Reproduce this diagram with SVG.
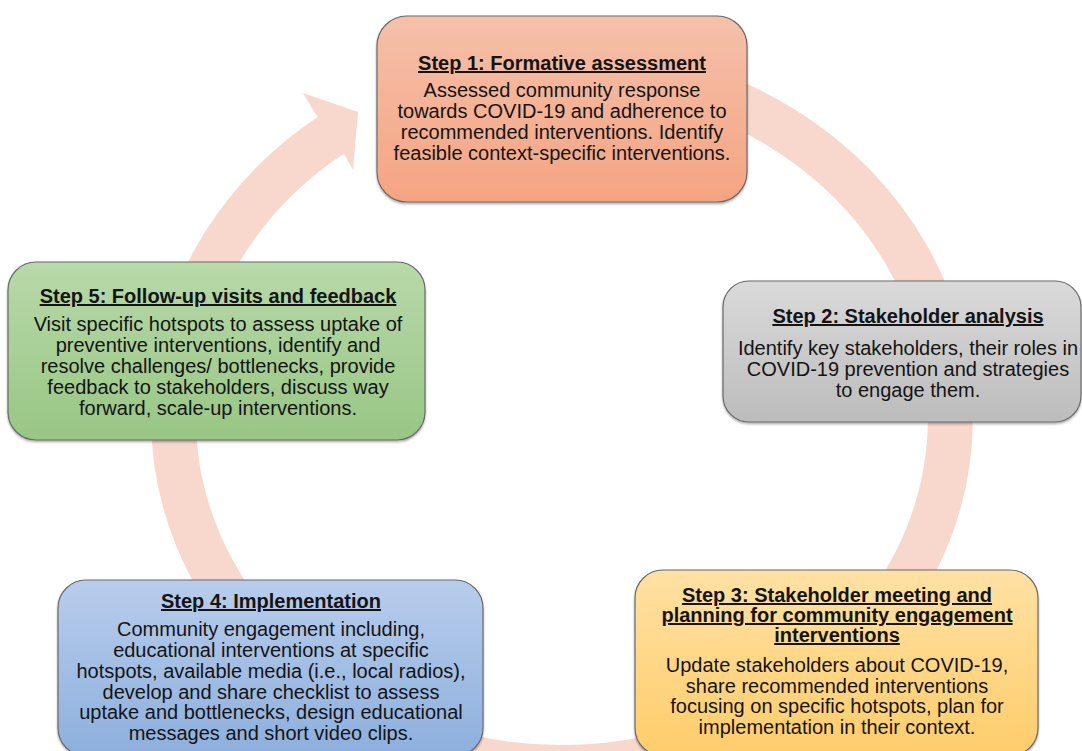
<svg xmlns="http://www.w3.org/2000/svg" width="1082" height="751" viewBox="0 0 1082 751">
<defs>
<linearGradient id="g1" x1="0" y1="0" x2="0" y2="1"><stop offset="0" stop-color="#F5C0AA"/><stop offset="1" stop-color="#F5A482"/></linearGradient>
<linearGradient id="g2" x1="0" y1="0" x2="0" y2="1"><stop offset="0" stop-color="#DADADA"/><stop offset="1" stop-color="#BCBCBC"/></linearGradient>
<linearGradient id="g3" x1="0" y1="0" x2="0" y2="1"><stop offset="0" stop-color="#FFE1A4"/><stop offset="1" stop-color="#FFCC6A"/></linearGradient>
<linearGradient id="g4" x1="0" y1="0" x2="0" y2="1"><stop offset="0" stop-color="#B8CDEC"/><stop offset="1" stop-color="#8DAFDD"/></linearGradient>
<linearGradient id="g5" x1="0" y1="0" x2="0" y2="1"><stop offset="0" stop-color="#B8D9AA"/><stop offset="1" stop-color="#98C684"/></linearGradient>
<filter id="sh" x="-5%" y="-5%" width="110%" height="115%"><feDropShadow dx="0" dy="1.5" stdDeviation="1.2" flood-color="#000" flood-opacity="0.35"/></filter>
</defs>
<style>
.box{stroke:#6a6a6a;stroke-width:1.2;filter:url(#sh)}
.t{font-family:"Liberation Sans",Arial,sans-serif;font-size:20px;fill:#141414;text-anchor:middle}
.h{font-weight:bold;text-decoration:underline}
.band{fill:none;stroke:#F8D8CD;stroke-width:45}
</style>
<g id="connectors">
<path class="band" d="M629.5,71.8 A388.5,350.5 0 1 1 333.6,133.4"/>
<polygon points="315,113 303,93 358,112 353,170 342,150" fill="#F8D8CD"/>
</g>
<g id="step1">
<rect class="box" x="377" y="16" width="370" height="186" rx="30" fill="url(#g1)"/>
<text class="t h" x="562" y="70">Step 1: Formative assessment</text>
<text class="t" x="562" y="97">Assessed community response</text>
<text class="t" x="562" y="118">towards COVID-19 and adherence to</text>
<text class="t" x="562" y="139">recommended interventions. Identify</text>
<text class="t" x="562" y="160">feasible context-specific interventions.</text>
</g>
<g id="step2">
<rect class="box" x="723" y="281" width="358" height="141" rx="26" fill="url(#g2)"/>
<text class="t h" x="908" y="323">Step 2: Stakeholder analysis</text>
<text class="t" x="908" y="355">Identify key stakeholders, their roles in</text>
<text class="t" x="908" y="376">COVID-19 prevention and strategies</text>
<text class="t" x="908" y="397">to engage them.</text>
</g>
<g id="step3">
<rect class="box" x="635" y="570" width="403" height="186" rx="28" fill="url(#g3)"/>
<text class="t h" x="837" y="602">Step 3: Stakeholder meeting and</text>
<text class="t h" x="837" y="622">planning for community engagement</text>
<text class="t h" x="837" y="642">interventions</text>
<text class="t" x="837" y="672">Update stakeholders about COVID-19,</text>
<text class="t" x="837" y="693">share recommended interventions</text>
<text class="t" x="837" y="713">focusing on specific hotspots, plan for</text>
<text class="t" x="837" y="734">implementation in their context.</text>
</g>
<g id="step4">
<rect class="box" x="58" y="580" width="425" height="176" rx="28" fill="url(#g4)"/>
<text class="t h" x="271" y="608">Step 4: Implementation</text>
<text class="t" x="271" y="636">Community engagement including,</text>
<text class="t" x="271" y="657">educational interventions at specific</text>
<text class="t" x="271" y="678">hotspots, available media (i.e., local radios),</text>
<text class="t" x="271" y="699">develop and share checklist to assess</text>
<text class="t" x="271" y="719">uptake and bottlenecks, design educational</text>
<text class="t" x="271" y="740">messages and short video clips.</text>
</g>
<g id="step5">
<rect class="box" x="8" y="262" width="417" height="178" rx="28" fill="url(#g5)"/>
<text class="t h" x="218" y="303">Step 5: Follow-up visits and feedback</text>
<text class="t" x="218" y="331">Visit specific hotspots to assess uptake of</text>
<text class="t" x="218" y="352">preventive interventions, identify and</text>
<text class="t" x="218" y="373">resolve challenges/ bottlenecks, provide</text>
<text class="t" x="218" y="394">feedback to stakeholders, discuss way</text>
<text class="t" x="218" y="415">forward, scale-up interventions.</text>
</g>
</svg>
